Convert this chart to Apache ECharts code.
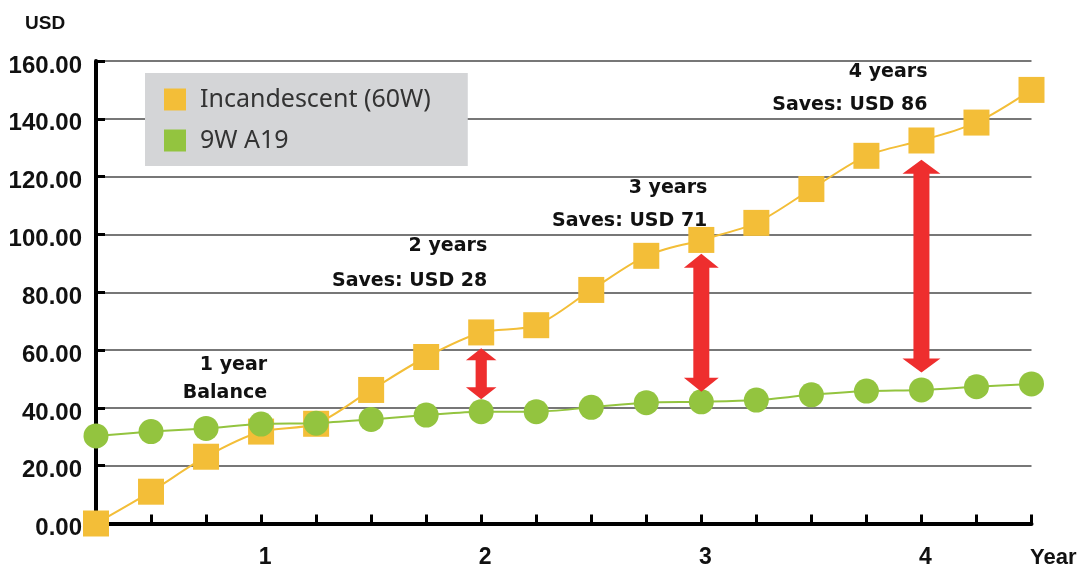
<!DOCTYPE html>
<html>
<head>
<meta charset="utf-8">
<script src="https://cdn.jsdelivr.net/npm/echarts@6/dist/echarts.min.js"></script>
<style>
html,body{margin:0;padding:0;background:#fff;}
#chart{width:1084px;height:572px;}
</style>
</head>
<body>
<div id="chart"></div>
<script>
// ---- data ----
const xLabels = ['', '', '', '1', '', '', '', '2', '', '', '', '3', '', '', '', '4', '', ''];
const yTicks = [0, 20, 40, 60, 80, 100, 120, 140, 160];
const incandescent = [0, 11.0, 23.1, 31.8, 34.5, 46.2, 57.6, 66.1, 68.6, 80.8, 92.6, 98.1, 104.0, 115.7, 127.2, 132.5, 138.7, 150.0];
const led9w = [30.3, 31.8, 32.9, 34.4, 34.7, 36.0, 37.5, 38.7, 38.7, 40.2, 41.8, 42.1, 42.7, 44.5, 45.8, 46.2, 47.3, 48.3];
const arrowIdx = [7, 11, 15];
const arrowTop = [60.6, 93.3, 125.8];
const arrowBottom = [43.0, 45.6, 52.2];
const noteIdx = [3, 3, 7, 7, 11, 11, 15, 15];
const noteVal = [54.8, 45.2, 96.0, 83.9, 116.1, 104.7, 156.2, 144.8];
const noteText = ['1 year', 'Balance', '2 years', 'Saves: USD 28', '3 years', 'Saves: USD 71', '4 years', 'Saves: USD 86'];

const ORANGE = '#f3be38';
const GREEN = '#93c43f';
const RED = '#ee2e2e';
const AXISFONT = '"Liberation Sans", Arial, sans-serif';

const chart = echarts.init(document.getElementById('chart'), null, {renderer: 'canvas'});

const option = {
  animation: false,
  backgroundColor: '#ffffff',
  grid: {left: 96, right: 52.5, top: 61, bottom: 48.5, containLabel: false},
  legend: {
    orient: 'vertical',
    left: 145, top: 73,
    backgroundColor: '#d4d5d7',
    padding: [14, 37, 13, 19],
    itemGap: 16,
    itemWidth: 22, itemHeight: 22,
    icon: 'rect',
    textStyle: {fontFamily: '"Noto Sans", sans-serif', fontSize: 25, color: '#333333', padding: [0, 0, 0, 9]},
    data: ['Incandescent (60W)', '9W A19']
  },
  xAxis: {
    type: 'category',
    data: xLabels,
    boundaryGap: false,
    axisLine: {lineStyle: {color: '#000', width: 4}},
    axisTick: {inside: true, length: 9, interval: 0, lineStyle: {color: '#000', width: 3}},
    axisLabel: {interval: 0, margin: 23, color: '#111', fontFamily: AXISFONT, fontWeight: 'bold', fontSize: 23, padding: [0, 0, 0, 8]},
    splitLine: {show: false}
  },
  yAxis: {
    type: 'value',
    min: yTicks[0], max: yTicks[yTicks.length - 1], interval: 20,
    axisLine: {show: true, lineStyle: {color: '#000', width: 4}},
    axisTick: {show: true, inside: true, length: 9, lineStyle: {color: '#000', width: 3}},
    axisLabel: {margin: 14, color: '#111', fontFamily: AXISFONT, fontWeight: 'bold', fontSize: 24,
      verticalAlign: 'top', lineHeight: 10, formatter: v => v.toFixed(2)},
    splitLine: {show: true, lineStyle: {color: '#4a4a4a', width: 1.5}}
  },
  graphic: [
    {type: 'text', left: 25, top: 14, style: {text: 'USD', font: 'bold 19px ' + AXISFONT, fill: '#111'}},
    {type: 'text', left: 1030, top: 547, style: {text: 'Year', font: 'bold 22px ' + AXISFONT, fill: '#111'}}
  ],
  series: [
    {
      name: 'Incandescent (60W)', type: 'line', data: incandescent, smooth: 0.3,
      symbol: 'rect', symbolSize: 26, showAllSymbol: true,
      itemStyle: {color: ORANGE}, lineStyle: {color: ORANGE, width: 2}, z: 3
    },
    {
      name: '9W A19', type: 'line', data: led9w, smooth: 0.3,
      symbol: 'circle', symbolSize: 25, showAllSymbol: true,
      itemStyle: {color: GREEN}, lineStyle: {color: GREEN, width: 2}, z: 4
    },
    {
      type: 'custom', name: 'arrows', z: 6, silent: true,
      data: arrowIdx.map((x, i) => [x, arrowTop[i], arrowBottom[i]]),
      encode: {x: 0, y: [1, 2]},
      renderItem: function (params, api) {
        const t = api.coord([api.value(0), api.value(1)]);
        const b = api.coord([api.value(0), api.value(2)]);
        const len = b[1] - t[1];
        const cx = t[0];
        const shaft = Math.min(16, len * 0.22) / 2;
        const head = Math.min(38, 28 + len * 0.05) / 2;
        const hl = len < 80 ? 12 : 14;
        const pts = [
          [cx, t[1]], [cx + head, t[1] + hl], [cx + shaft, t[1] + hl],
          [cx + shaft, b[1] - hl], [cx + head, b[1] - hl], [cx, b[1]],
          [cx - head, b[1] - hl], [cx - shaft, b[1] - hl], [cx - shaft, t[1] + hl],
          [cx - head, t[1] + hl]
        ];
        return {type: 'polygon', shape: {points: pts}, style: {fill: RED}};
      }
    },
    {
      type: 'custom', name: 'notes', z: 7, silent: true,
      data: noteIdx.map((x, i) => [x, noteVal[i]]),
      encode: {x: 0, y: 1},
      renderItem: function (params, api) {
        const p = api.coord([api.value(0), api.value(1)]);
        return {
          type: 'text', x: p[0] + 6, y: p[1],
          style: {text: noteText[params.dataIndex], align: 'right', verticalAlign: 'middle',
            font: 'bold 19px "DejaVu Sans", sans-serif', fill: '#111'}
        };
      }
    }
  ]
};
chart.setOption(option);
</script>
</body>
</html>
